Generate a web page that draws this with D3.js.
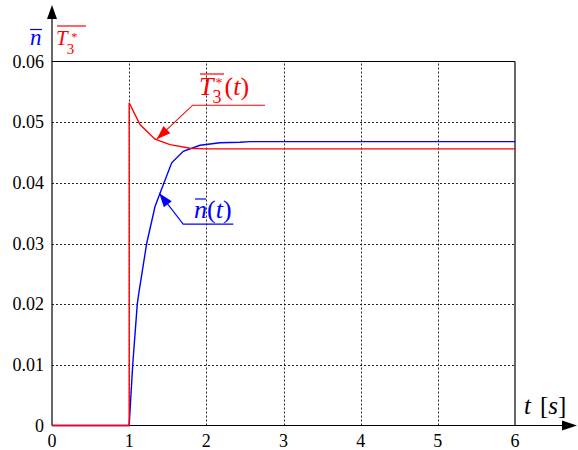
<!DOCTYPE html>
<html>
<head>
<meta charset="utf-8">
<script src="https://cdn.jsdelivr.net/npm/d3@7/dist/d3.min.js"></script>
<style>
  html, body { margin: 0; padding: 0; background: #fff; }
</style>
</head>
<body>
<svg id="chart" width="578" height="450"></svg>
<script>
// time axis ticks and value axis ticks
const tTicks = [0, 1, 2, 3, 4, 5, 6];
const yTicks = [0, 0.01, 0.02, 0.03, 0.04, 0.05, 0.06];
const yTickLabels = ["0", "0.01", "0.02", "0.03", "0.04", "0.05", "0.06"];

// n(t) - blue response
const nTime = [0, 1, 1.046, 1.105, 1.127, 1.227, 1.335, 1.40, 1.551, 1.701, 1.918, 2.177, 2.436, 2.566, 6];
const nValue = [0, 0, 0.010, 0.020, 0.022, 0.030, 0.0361, 0.0383, 0.0433, 0.0452, 0.0462, 0.0466, 0.0467, 0.0468, 0.0468];

// T3*(t) - red response
const tTime = [0, 1, 1, 1.14, 1.335, 1.529, 1.788, 2.0, 6];
const tValue = [0, 0, 0.0532, 0.0496, 0.0472, 0.0463, 0.0457, 0.0456, 0.0456];

const svg = d3.select("#chart");
const x = d3.scaleLinear().domain([0, 6]).range([52, 515]);
const y = d3.scaleLinear().domain([0, 0.06]).range([425.5, 61.5]);

const BLUE = "#0000ff";
const RED = "#ff0000";

// serif text helper
function txt(parent, size) {
  return parent.append("text").attr("font-size", size).style("font-family", '"Liberation Serif"');
}

// grid
const grid = svg.append("g").attr("stroke", "#222").attr("stroke-width", 1)
  .attr("stroke-dasharray", "2,2");
tTicks.slice(1, -1).forEach(d => {
  grid.append("line").attr("x1", Math.round(x(d)) + 0.5).attr("x2", Math.round(x(d)) + 0.5)
    .attr("y1", y(0)).attr("y2", y(0.06));
});
yTicks.slice(1, -1).forEach(d => {
  grid.append("line").attr("x1", x(0)).attr("x2", x(6))
    .attr("y1", Math.round(y(d)) + 0.5).attr("y2", Math.round(y(d)) + 0.5);
});

// frame and axes
const frame = svg.append("g").attr("stroke", "#000").attr("stroke-width", 1.2).attr("fill", "none");
frame.append("line").attr("x1", x(0)).attr("x2", x(6)).attr("y1", y(0.06)).attr("y2", y(0.06));
frame.append("line").attr("x1", x(6)).attr("x2", x(6)).attr("y1", y(0)).attr("y2", y(0.06));
frame.append("line").attr("x1", x(0)).attr("x2", 563).attr("y1", y(0)).attr("y2", y(0));
frame.append("line").attr("x1", x(0)).attr("x2", x(0)).attr("y1", y(0)).attr("y2", 18);

// axis arrows
svg.append("path").attr("fill", "#000")
  .attr("d", `M${x(0)},5 L${x(0) - 5},19 L${x(0) + 5},19 Z`);
svg.append("path").attr("fill", "#000")
  .attr("d", `M577,${y(0)} L562,${y(0) - 5} L562,${y(0) + 5} Z`);

// tick labels
yTicks.forEach((d, i) => {
  txt(svg, 18).attr("text-anchor", "end").attr("x", 44).attr("y", y(d) + 6).text(yTickLabels[i]);
});
tTicks.forEach(d => {
  txt(svg, 18).attr("text-anchor", "middle").attr("x", x(d)).attr("y", 447).text(d);
});

// curves
const line = d3.line().x(d => x(d[0])).y(d => y(d[1]));
svg.append("path")
  .datum(nTime.map((t, i) => [t, nValue[i]]))
  .attr("fill", "none").attr("stroke", BLUE).attr("stroke-width", 1.4)
  .attr("d", line);
svg.append("path")
  .datum(tTime.map((t, i) => [t, tValue[i]]))
  .attr("fill", "none").attr("stroke", RED).attr("stroke-width", 1.4)
  .attr("d", line);

// arrowheads for annotations, drawn as triangles at the leader tip
function arrowHead(x0, y0, x1, y1, color) {
  const a = Math.atan2(y1 - y0, x1 - x0);
  const L = 14, W = 5;
  const bx = x1 - L * Math.cos(a), by = y1 - L * Math.sin(a);
  const px = -Math.sin(a) * W, py = Math.cos(a) * W;
  svg.append("path").attr("fill", color)
    .attr("d", `M${x1},${y1} L${bx + px},${by + py} L${bx - px},${by - py} Z`);
}

// T3*(t) annotation
const rA = [x(2.76), y(0.0528)], rB = [x(1.823), y(0.0528)], rC = [x(1.357), y(0.0472)];
svg.append("polyline").attr("fill", "none").attr("stroke", RED).attr("stroke-width", 1.1)
  .attr("points", [rA, rB, rC].map(p => p.join(",")).join(" "));
arrowHead(rB[0], rB[1], rC[0], rC[1], RED);
svg.append("line").attr("stroke", RED).attr("stroke-width", 1.2)
  .attr("x1", 200).attr("x2", 224).attr("y1", 74).attr("y2", 74);
const redLabel = txt(svg, 26).attr("fill", RED).attr("x", 199).attr("y", 95);
redLabel.append("tspan").style("font-style", "italic").text("T");
redLabel.append("tspan").attr("font-size", 18).attr("dy", 8).attr("dx", -1).text("3");
redLabel.append("tspan").attr("font-size", 14).attr("dy", -15).attr("dx", -6).text("*");
redLabel.append("tspan").attr("dy", 7).attr("dx", 2).text("(");
redLabel.append("tspan").style("font-style", "italic").text("t");
redLabel.append("tspan").text(")");

// n(t) annotation
const bA = [x(2.35), y(0.0332)], bB = [x(1.70), y(0.0332)], bC = [x(1.39), y(0.0383)];
svg.append("polyline").attr("fill", "none").attr("stroke", BLUE).attr("stroke-width", 1.1)
  .attr("points", [bA, bB, bC].map(p => p.join(",")).join(" "));
arrowHead(bB[0], bB[1], bC[0], bC[1], BLUE);
svg.append("line").attr("stroke", BLUE).attr("stroke-width", 1.2)
  .attr("x1", 195).attr("x2", 206).attr("y1", 199).attr("y2", 199);
const blueLabel = txt(svg, 26).attr("fill", BLUE).attr("x", 194).attr("y", 218);
blueLabel.append("tspan").style("font-style", "italic").text("n");
blueLabel.append("tspan").text("(");
blueLabel.append("tspan").style("font-style", "italic").text("t");
blueLabel.append("tspan").text(")");

// axis titles
svg.append("line").attr("stroke", BLUE).attr("stroke-width", 1.2)
  .attr("x1", 30).attr("x2", 42).attr("y1", 29.5).attr("y2", 29.5);
txt(svg, 23).attr("fill", BLUE).style("font-style", "italic")
  .attr("x", 30).attr("y", 45).text("n");
svg.append("line").attr("stroke", RED).attr("stroke-width", 1.2)
  .attr("x1", 57).attr("x2", 86).attr("y1", 26).attr("y2", 26);
const tLab = txt(svg, 21).attr("fill", RED).attr("x", 56).attr("y", 45);
tLab.append("tspan").style("font-style", "italic").text("T");
tLab.append("tspan").attr("font-size", 15).attr("dy", 9).attr("dx", -1).text("3");
tLab.append("tspan").attr("font-size", 12).attr("dy", -13).attr("dx", -3).text("*");

const xTitle = txt(svg, 25).attr("x", 524).attr("y", 414);
xTitle.append("tspan").style("font-style", "italic").text("t");
xTitle.append("tspan").attr("dx", 9).text("[");
xTitle.append("tspan").style("font-style", "italic").text("s");
xTitle.append("tspan").text("]");
</script>
</body>
</html>
